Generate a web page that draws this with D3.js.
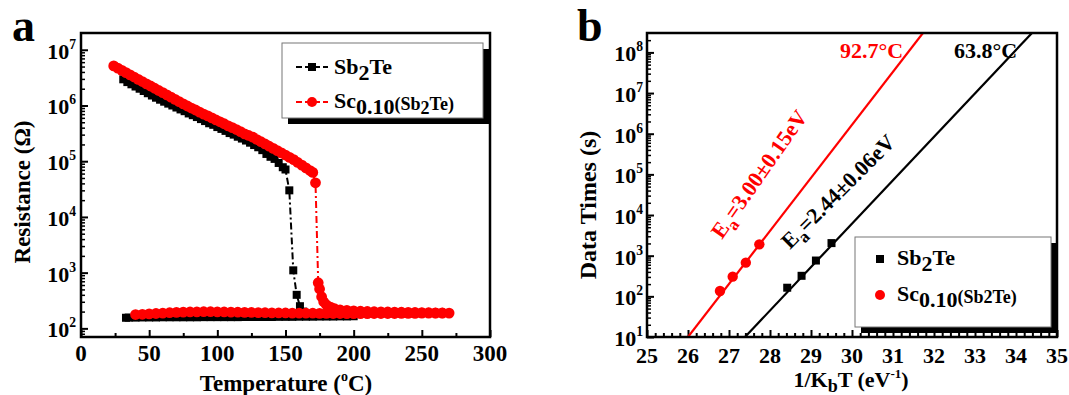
<!DOCTYPE html>
<html><head><meta charset="utf-8">
<script src="https://cdn.jsdelivr.net/npm/d3@7"></script>
<style>
body{margin:0;background:#fff}
svg{font-family:"Liberation Serif","Times New Roman",serif;font-weight:bold}
</style>
</head><body><svg id="c" width="1069" height="395"></svg>
<script>
// ---------- DATA ----------
// panel a : R-T curves (heating then cooling)
const sbTemp = [31,34,37,40,43,46,49,52,55,58,61,64,67,70,73,76,79,82,85,88,91,94,97,100,103,106,109,112,115,118,121,124,127,130,133,136,139,142,145,148,150,152.8,155.7,158.2,160.6,163,166,170,175,180,185,190,195,200,
  195,190,185,180,175,170,165,160,155,150,145,140,135,130,125,120,115,110,105,100,95,90,85,80,75,70,65,60,55,50,45,40,35,33];
const sbRes = [2.95e6,2.63e6,2.40e6,2.19e6,2.0e6,1.82e6,1.66e6,1.51e6,1.38e6,1.27e6,1.17e6,1.08e6,1.0e6,9.2e5,8.5e5,7.9e5,7.2e5,6.7e5,6.2e5,5.7e5,5.25e5,4.8e5,4.5e5,4.1e5,3.8e5,3.5e5,3.2e5,3.0e5,2.75e5,2.55e5,2.35e5,2.15e5,1.95e5,1.78e5,1.58e5,1.35e5,1.2e5,1.1e5,9.3e4,7.8e4,7.1e4,3.0e4,1.1e3,400,250,200,180,175,172,170,168,167,166,165,
  164,164,163,163,163,162,162,162,161,161,161,160,160,160,160,160,159,159,159,159,159,159,158,158,158,158,158,158,157,157,157,156,156,155];
const scTemp = [24,27,30,33,36,39,42,45,48,51,54,57,60,63,66,69,72,75,78,81,84,87,90,93,96,99,102,105,108,111,114,117,120,123,126,129,132,135,138,141,144,147,150,153,156,159,162,165,168,170,172,
  174,175,176.5,178,180,183,186,190,195,200,205,210,215,220,225,230,235,240,245,250,255,260,265,270,
  265,260,255,250,245,240,235,230,225,220,215,210,205,200,195,190,185,180,175,170,165,160,155,150,145,140,135,130,125,120,115,110,105,100,95,90,85,80,75,70,65,60,55,50,45,40];
const scRes = [5.13e6,4.68e6,4.27e6,3.89e6,3.55e6,3.24e6,2.95e6,2.69e6,2.45e6,2.24e6,2.04e6,1.86e6,1.70e6,1.55e6,1.41e6,1.29e6,1.17e6,1.07e6,9.8e5,9.0e5,8.3e5,7.6e5,7.0e5,6.5e5,6.0e5,5.5e5,5.1e5,4.7e5,4.3e5,4.0e5,3.7e5,3.4e5,3.1e5,2.9e5,2.7e5,2.45e5,2.24e5,2.04e5,1.86e5,1.70e5,1.55e5,1.41e5,1.29e5,1.17e5,1.07e5,9.5e4,8.5e4,7.6e4,6.8e4,6.3e4,4.1e4,
  660,510,370,300,265,240,225,215,210,206,203,201,199,198,197,196,195,194,193,192,191,190,189,188,
  188,188,187,187,186,186,186,185,185,185,185,184,184,184,184,185,185,186,186,187,187,188,188,189,189,190,191,192,193,194,195,196,197,198,199,199,198,197,196,194,191,188,185,182,179,177];
const aXTicks = [0,50,100,150,200,250,300];
const aXMinor = [25,75,125,175,225,275];
const aYTicks = [1e2,1e3,1e4,1e5,1e6,1e7];

// panel b : data retention times
const sbInvKT = [28.42,28.77,29.12,29.50];
const sbTime  = [163,320,760,2040];
const scInvKT = [26.78,27.09,27.41,27.74];
const scTime  = [135,305,675,1900];
const sbFitX = [27.39,34.39], sbFitY = [10,3e8];
const scFitX = [26.0,31.73],  scFitY = [10,3e8];
const bXTicks = [25,26,27,28,29,30,31,32,33,34,35];
const bYTicks = [1e1,1e2,1e3,1e4,1e5,1e6,1e7,1e8];

const RED = "#ff0000", BLK = "#000";
const svg = d3.select("#c");

// ---------- helpers ----------
function logMinors(lo, hi){
  const out=[];
  for(let d=Math.floor(Math.log10(lo)); d<=Math.ceil(Math.log10(hi)); d++)
    for(let k=2;k<=9;k++){const v=k*Math.pow(10,d); if(v>lo && v<hi) out.push(v);}
  return out;
}
function frame(g, L, T, R, B){
  g.append("rect").attr("x",L).attr("y",T).attr("width",R-L).attr("height",B-T)
    .attr("fill","none").attr("stroke","#000").attr("stroke-width",2.5);
}
function yLabels(g, y, ticks, xr, fs){
  ticks.forEach(v=>{
    const t = g.append("text").attr("x",xr).attr("y",y(v)+9).attr("text-anchor","end")
      .attr("font-size",fs);
    t.append("tspan").text("10");
    t.append("tspan").attr("dy",-10).attr("font-size",fs*0.62).text(Math.round(Math.log10(v)));
  });
}
function legendBox(g, x, y, w, h){
  g.append("rect").attr("x",x+6).attr("y",y+6).attr("width",w).attr("height",h).attr("fill","#000");
  g.append("rect").attr("x",x).attr("y",y).attr("width",w).attr("height",h)
    .attr("fill","#fff").attr("stroke","#777").attr("stroke-width",1);
}
function scLabel(t, fs){
  t.append("tspan").text("Sc");
  t.append("tspan").attr("dy",6).attr("font-size",fs).text("0.10");
  t.append("tspan").attr("dy",-4).attr("font-size",fs*0.82).text("(Sb");
  t.append("tspan").attr("dy",4).attr("font-size",fs*0.82).text("2");
  t.append("tspan").attr("dy",-4).attr("font-size",fs*0.82).text("Te)");
}
function sbLabel(t){
  t.append("tspan").text("Sb");
  t.append("tspan").attr("dy",6).text("2");
  t.append("tspan").attr("dy",-6).text("Te");
}

// ================= PANEL A =================
{
  const L=81, R=490, T=33, B=337;
  const x = d3.scaleLinear().domain([0,300]).range([L,R]);
  const y = d3.scaleLog().domain([70,2e7]).range([B,T]);
  const g = svg.append("g");

  g.append("g").attr("transform",`translate(0,${B})`)
    .call(d3.axisBottom(x).tickValues(aXTicks).tickSize(-7).tickFormat(""))
    .call(s=>{s.select(".domain").remove(); s.selectAll("line").attr("stroke-width",2);});
  g.append("g").attr("transform",`translate(0,${B})`)
    .call(d3.axisBottom(x).tickValues(aXMinor).tickSize(-4).tickFormat(""))
    .call(s=>{s.select(".domain").remove(); s.selectAll("line").attr("stroke-width",2);});
  g.append("g").attr("transform",`translate(${L},0)`)
    .call(d3.axisLeft(y).tickValues(aYTicks).tickSize(-7).tickFormat(""))
    .call(s=>{s.select(".domain").remove(); s.selectAll("line").attr("stroke-width",2);});
  g.append("g").attr("transform",`translate(${L},0)`)
    .call(d3.axisLeft(y).tickValues(logMinors(70,2e7)).tickSize(-4).tickFormat(""))
    .call(s=>{s.select(".domain").remove(); s.selectAll("line").attr("stroke-width",1.5);});

  aXTicks.forEach(v=>g.append("text").attr("x",x(v)).attr("y",361).attr("text-anchor","middle")
    .attr("font-size",23).text(v));
  yLabels(g, y, aYTicks, 76, 22);

  const line = d3.line().x(d=>x(d[0])).y(d=>y(d[1]));
  const sb = sbTemp.map((t,i)=>[t,sbRes[i]]);
  const sc = scTemp.map((t,i)=>[t,scRes[i]]);
  g.append("path").datum(sb).attr("d",line).attr("fill","none").attr("stroke",BLK)
    .attr("stroke-width",2).attr("stroke-dasharray","7,3,2,3");
  g.selectAll(".sq").data(sb).enter().append("rect")
    .attr("x",d=>x(d[0])-4).attr("y",d=>y(d[1])-4).attr("width",8).attr("height",8).attr("fill",BLK);
  g.append("path").datum(sc).attr("d",line).attr("fill","none").attr("stroke",RED)
    .attr("stroke-width",2).attr("stroke-dasharray","7,3,2,3");
  g.selectAll(".ci").data(sc).enter().append("circle")
    .attr("cx",d=>x(d[0])).attr("cy",d=>y(d[1])).attr("r",5.4).attr("fill",RED);

  frame(g,L,T,R,B);

  legendBox(g,282,43,201,75);
  [[67,BLK,"sq"],[102,RED,"ci"]].forEach(([yy,c,m])=>{
    g.append("line").attr("x1",296).attr("x2",328).attr("y1",yy).attr("y2",yy)
      .attr("stroke",c).attr("stroke-width",2).attr("stroke-dasharray","6,3");
    if(m==="sq") g.append("rect").attr("x",308).attr("y",yy-4).attr("width",8).attr("height",8).attr("fill",c);
    else g.append("circle").attr("cx",312).attr("cy",yy).attr("r",5).attr("fill",c);
  });
  sbLabel(g.append("text").attr("x",334).attr("y",74).attr("font-size",22));
  scLabel(g.append("text").attr("x",334).attr("y",108).attr("font-size",22), 22);

  const xt = g.append("text").attr("x",286).attr("y",391).attr("text-anchor","middle").attr("font-size",23);
  xt.append("tspan").text("Temperature (");
  xt.append("tspan").attr("dy",-10).attr("font-size",14).text("o");
  xt.append("tspan").attr("dy",10).text("C)");
  g.append("text").attr("transform","translate(30,192) rotate(-90)").attr("text-anchor","middle")
    .attr("font-size",23).text("Resistance (Ω)");
  g.append("text").attr("x",12).attr("y",41).attr("font-size",46).text("a");
}

// ================= PANEL B =================
{
  const L=647, R=1057, T=33, B=337;
  const x = d3.scaleLinear().domain([25,35]).range([L,R]);
  const y = d3.scaleLog().domain([10,3e8]).range([B,T]);
  const g = svg.append("g");
  svg.append("clipPath").attr("id","cb").append("rect").attr("x",L).attr("y",T).attr("width",R-L).attr("height",B-T);

  const minorX = [];
  bXTicks.slice(0,-1).forEach(v=>[0.2,0.4,0.6,0.8].forEach(f=>minorX.push(v+f)));
  g.append("g").attr("transform",`translate(0,${B})`)
    .call(d3.axisBottom(x).tickValues(bXTicks).tickSize(-7).tickFormat(""))
    .call(s=>{s.select(".domain").remove(); s.selectAll("line").attr("stroke-width",2);});
  g.append("g").attr("transform",`translate(0,${B})`)
    .call(d3.axisBottom(x).tickValues(minorX).tickSize(-4).tickFormat(""))
    .call(s=>{s.select(".domain").remove(); s.selectAll("line").attr("stroke-width",2);});
  g.append("g").attr("transform",`translate(${L},0)`)
    .call(d3.axisLeft(y).tickValues(bYTicks).tickSize(-7).tickFormat(""))
    .call(s=>{s.select(".domain").remove(); s.selectAll("line").attr("stroke-width",2);});
  g.append("g").attr("transform",`translate(${L},0)`)
    .call(d3.axisLeft(y).tickValues(logMinors(10,3e8)).tickSize(-4).tickFormat(""))
    .call(s=>{s.select(".domain").remove(); s.selectAll("line").attr("stroke-width",1.5);});

  bXTicks.forEach(v=>g.append("text").attr("x",x(v)).attr("y",363).attr("text-anchor","middle")
    .attr("font-size",22).text(v));
  yLabels(g, y, bYTicks, 643, 22);

  const line = d3.line().x(d=>x(d[0])).y(d=>y(d[1]));
  g.append("path").datum(scFitX.map((v,i)=>[v,scFitY[i]])).attr("d",line).attr("clip-path","url(#cb)")
    .attr("stroke",RED).attr("stroke-width",2.2).attr("fill","none");
  g.append("path").datum(sbFitX.map((v,i)=>[v,sbFitY[i]])).attr("d",line).attr("clip-path","url(#cb)")
    .attr("stroke",BLK).attr("stroke-width",2.2).attr("fill","none");
  g.selectAll(".ci").data(scInvKT.map((v,i)=>[v,scTime[i]])).enter().append("circle")
    .attr("cx",d=>x(d[0])).attr("cy",d=>y(d[1])).attr("r",5.2).attr("fill",RED);
  g.selectAll(".sq").data(sbInvKT.map((v,i)=>[v,sbTime[i]])).enter().append("rect")
    .attr("x",d=>x(d[0])-4).attr("y",d=>y(d[1])-4).attr("width",8).attr("height",8).attr("fill",BLK);

  frame(g,L,T,R,B);

  g.append("text").attr("x",840).attr("y",58).attr("font-size",22).attr("fill",RED).text("92.7°C");
  g.append("text").attr("x",954).attr("y",58).attr("font-size",22).attr("fill",BLK).text("63.8°C");
  const ea1 = g.append("text").attr("transform","translate(722,240) rotate(-55)").attr("font-size",22).attr("fill",RED);
  ea1.append("tspan").text("E"); ea1.append("tspan").attr("dy",6).attr("font-size",17).text("a");
  ea1.append("tspan").attr("dy",-6).text("=3.00±0.15eV");
  const ea2 = g.append("text").attr("transform","translate(790,250) rotate(-45)").attr("font-size",22).attr("fill",BLK);
  ea2.append("tspan").text("E"); ea2.append("tspan").attr("dy",6).attr("font-size",17).text("a");
  ea2.append("tspan").attr("dy",-6).text("=2.44±0.06eV");

  legendBox(g,855,237,196,90);
  g.append("rect").attr("x",876).attr("y",255).attr("width",8).attr("height",8).attr("fill",BLK);
  g.append("circle").attr("cx",880).attr("cy",295).attr("r",5).attr("fill",RED);
  sbLabel(g.append("text").attr("x",897).attr("y",265).attr("font-size",22));
  const t2 = g.append("text").attr("x",897).attr("y",301).attr("font-size",22);
  t2.append("tspan").text("Sc");
  t2.append("tspan").attr("dy",6).text("0.10");
  t2.append("tspan").attr("dy",-4).attr("font-size",18).text("(Sb2Te)");

  const xt = g.append("text").attr("x",851).attr("y",387).attr("text-anchor","middle").attr("font-size",22);
  xt.append("tspan").text("1/K");
  xt.append("tspan").attr("dy",5).attr("font-size",18).text("b");
  xt.append("tspan").attr("dy",-5).text("T (eV");
  xt.append("tspan").attr("dy",-9).attr("font-size",13).text("-1");
  xt.append("tspan").attr("dy",9).text(")");
  g.append("text").attr("transform","translate(596,205) rotate(-90)").attr("text-anchor","middle")
    .attr("font-size",24).text("Data Times (s)");
  g.append("text").attr("x",577).attr("y",41).attr("font-size",46).text("b");
}
</script></body></html>
